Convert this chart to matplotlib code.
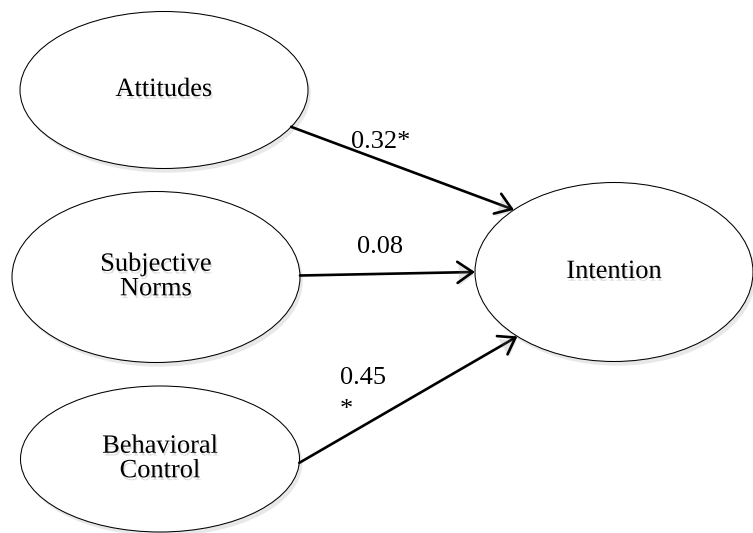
import numpy as np
import matplotlib
matplotlib.use('Agg')
import matplotlib.pyplot as plt
from matplotlib.patches import Ellipse, FancyArrowPatch
import matplotlib.patheffects as pe

# constructs and path coefficients
predictors = ['Attitudes', 'Subjective\nNorms', 'Behavioral\nControl']
outcome = 'Intention'
coefs = ['0.32*', '0.08', '0.45\n*']

# layout (pixel space, y down)
pred_centers = [(164, 90), (156, 277), (160, 459)]
pred_sizes = [(288, 157), (288, 171), (279, 146)]
out_center = (614, 272)
out_size = (278, 179)
start_angles = [28, -1, 3]       # degrees on predictor ellipse
end_angles = [224, 180, 134]     # degrees on outcome ellipse
label_pos = [(381, 142), (380, 247), (363, 394)]

font = 'Liberation Serif'
fs = 19

fig = plt.figure(figsize=(7.53, 5.33), dpi=100)
ax = fig.add_axes([0, 0, 1, 1])
ax.set_xlim(0, 753)
ax.set_ylim(533, 0)
ax.axis('off')

shadow = [pe.SimplePatchShadow(offset=(2, -3), shadow_rgbFace='gray', alpha=0.18), pe.Normal()]
tshadow = [pe.SimplePatchShadow(offset=(1, -2), shadow_rgbFace='gray', alpha=0.25), pe.Normal()]


def point_on(center, size, ang):
    t = np.deg2rad(ang)
    return (center[0] + size[0] / 2 * np.cos(t), center[1] + size[1] / 2 * np.sin(t))


def node(center, size, label):
    e = Ellipse(center, size[0], size[1], facecolor='white', edgecolor='black', lw=0.75)
    e.set_path_effects(shadow)
    ax.add_patch(e)
    ax.text(center[0], center[1], label, ha='center', va='center', fontsize=fs,
            family=font, linespacing=1.15, path_effects=tshadow)


for c, s, lab in zip(pred_centers, pred_sizes, predictors):
    node(c, s, lab)
node(out_center, out_size, outcome)

for c, s, a0, a1, lab, lp in zip(pred_centers, pred_sizes, start_angles, end_angles, coefs, label_pos):
    p0 = point_on(c, s, a0)
    p1 = point_on(out_center, out_size, a1)
    arr = FancyArrowPatch(p0, p1, arrowstyle='->,head_length=0.55,head_width=0.38',
                          mutation_scale=20, lw=1.9, color='black', shrinkA=0, shrinkB=0)
    arr.set_path_effects([pe.SimplePatchShadow(offset=(1, -2), shadow_rgbFace='gray', alpha=0.2), pe.Normal()])
    ax.add_patch(arr)
    ax.text(lp[0], lp[1], lab, ha='center', va='center', fontsize=fs, family=font,
            linespacing=1.6, multialignment='left')

fig.savefig('out.png', dpi=100)
